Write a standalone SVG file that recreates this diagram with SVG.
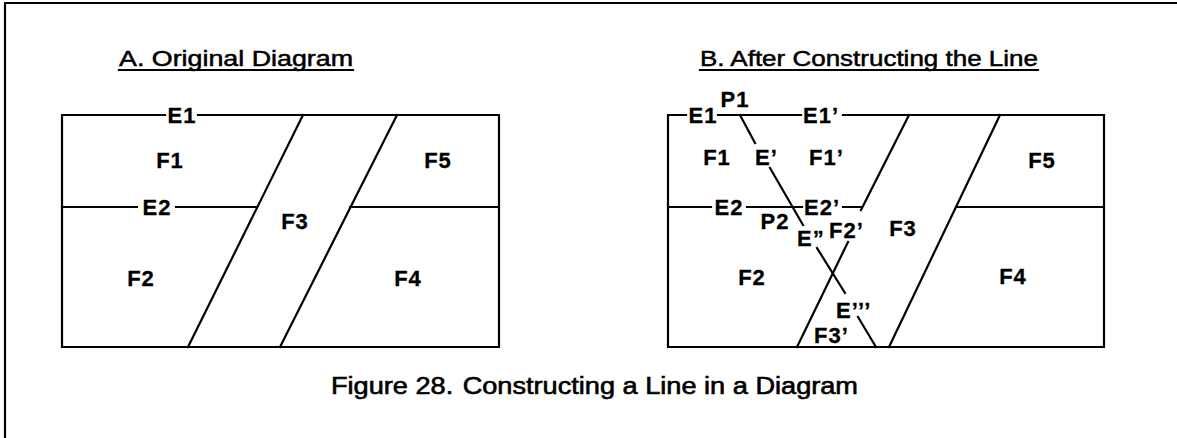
<svg xmlns="http://www.w3.org/2000/svg" width="1177" height="438" viewBox="0 0 1177 438">
<style>
.ln{stroke:#000;stroke-width:2.2;fill:none;stroke-linecap:square}
.lb{font-family:"Liberation Sans",Arial,sans-serif;font-weight:bold;font-size:22px;letter-spacing:1px;fill:#000;stroke:#000;stroke-width:0.3}
.tt{font-family:"Liberation Sans",Arial,sans-serif;font-size:22px;fill:#000;stroke:#000;stroke-width:0.5}
.cap{font-family:"Liberation Sans",Arial,sans-serif;font-size:23px;fill:#000;stroke:#000;stroke-width:0.6}
.m{text-anchor:middle}
</style>
<rect width="1177" height="438" fill="#fff"/>
<g id="frame">
<path class="ln" d="M5,3 H1177 M5,3 V438" stroke-width="3"/>
</g>
<g id="panelA">
<text class="tt" x="119" y="66" textLength="234" lengthAdjust="spacingAndGlyphs">A. Original Diagram</text>
<line class="ln" x1="119" y1="70" x2="353" y2="70" stroke-width="2"/>
<g id="A-edges">
<path class="ln" d="M165,115 H62 V347 H499 V115 H198 M137,207 H62 M176,207 H257 M350,207 H499 M303,115 L188,347 M397,115 L280,347"/>
</g>
<g id="A-labels">
<text class="lb m" x="182" y="123">E1</text>
<text class="lb m" x="170" y="168">F1</text>
<text class="lb m" x="438" y="168">F5</text>
<text class="lb m" x="157" y="215">E2</text>
<text class="lb m" x="295" y="228.5">F3</text>
<text class="lb m" x="141" y="286">F2</text>
<text class="lb m" x="408" y="286">F4</text>
</g>
</g>
<g id="panelB">
<text class="tt" x="700" y="66" textLength="338" lengthAdjust="spacingAndGlyphs">B. After Constructing the Line</text>
<line class="ln" x1="700" y1="70" x2="1038" y2="70" stroke-width="2"/>
<g id="B-edges">
<path class="ln" d="M686,115 H668 V347 H1104 V115 H843 M801,115 H718 M711,207 H668 M747,207 H802 M843,207 H861 M956,207 H1104 M909,115 L861,210 M848,242 L797,347 M1000,115 L889,347"/>
</g>
<g id="B-newline">
<path class="ln" d="M740,115 L755,143 M770,168 L803,225 M817,248 L845,293 M858,317 L876,347"/>
</g>
<g id="B-labels">
<text class="lb m" x="703" y="123">E1</text>
<text class="lb m" x="735" y="107">P1</text>
<text class="lb" x="803" y="123">E1’</text>
<text class="lb m" x="717" y="165">F1</text>
<text class="lb" x="755" y="165">E’</text>
<text class="lb" x="809" y="165">F1’</text>
<text class="lb m" x="1042" y="168">F5</text>
<text class="lb m" x="729" y="215">E2</text>
<text class="lb" x="804" y="215">E2’</text>
<text class="lb m" x="775" y="229">P2</text>
<text class="lb" x="797" y="246">E”</text>
<text class="lb" x="829" y="238">F2’</text>
<text class="lb m" x="903" y="235.5">F3</text>
<text class="lb m" x="752" y="285">F2</text>
<text class="lb m" x="1013" y="284">F4</text>
<text class="lb" x="836" y="318">E’’’</text>
<text class="lb" x="814" y="343">F3’</text>
</g>
</g>
<g id="caption">
<text class="cap" x="331" y="394" textLength="527" lengthAdjust="spacingAndGlyphs">Figure 28.<tspan dx="8">Constructing a Line in a Diagram</tspan></text>
</g>
</svg>
